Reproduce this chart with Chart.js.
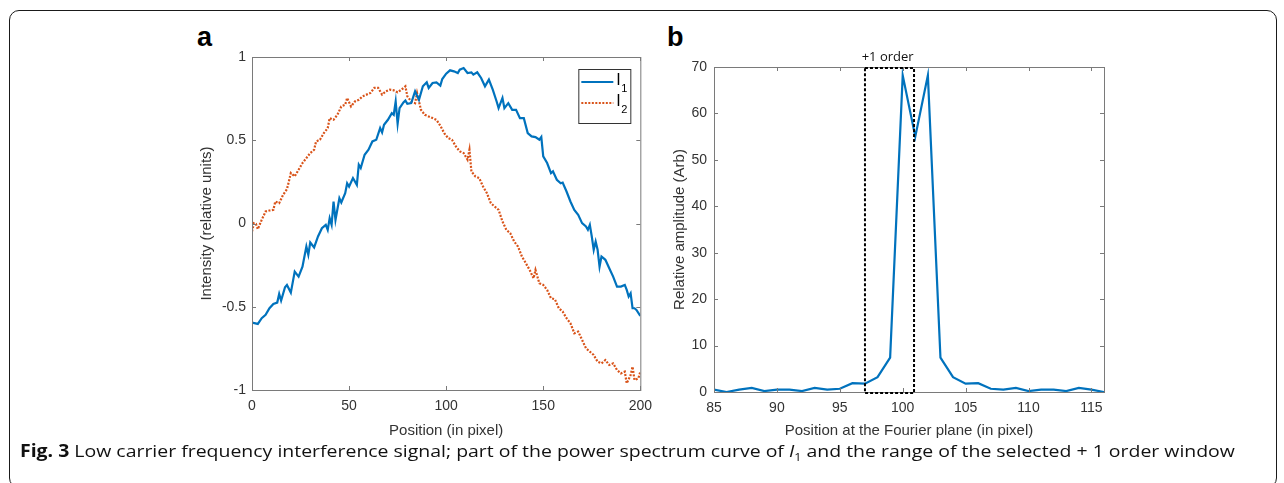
<!DOCTYPE html>
<html>
<head>
<meta charset="utf-8">
<script src="https://cdn.jsdelivr.net/npm/chart.js@4.4.1/dist/chart.umd.min.js"></script>
<style>
  body { margin: 0; background: #fff; width: 1284px; height: 483px; overflow: hidden; position: relative; font-family: "Liberation Sans", Arial, sans-serif; }
  .frame { position: absolute; left: 9px; top: 10px; width: 1268px; height: 478px; box-sizing: border-box; border: 1.5px solid #1a1a1a; border-radius: 10px; }
  .panel { position: absolute; }
  .tag { position: absolute; font-weight: bold; font-size: 27px; color: #000; }
  #caption { position: absolute; left: 20px; top: 439px; font-family: "Open Sans", sans-serif; font-size: 17px; color: #111; white-space: nowrap; transform-origin: left top; }
</style>
</head>
<body>
<div class="frame"></div>
<div class="tag" style="left:197px; top:22px;">a</div>
<div class="tag" style="left:667px; top:22px;">b</div>
<div class="panel" style="left:180px; top:20px; width:480px; height:425px;"><canvas id="chartA"></canvas></div>
<div class="panel" style="left:650px; top:20px; width:480px; height:425px;"><canvas id="chartB"></canvas></div>
<div id="caption"><b>Fig. 3</b> Low carrier frequency interference signal; part of the power spectrum curve of <i>I</i><sub style="font-size:11px">1</sub> and the range of the selected + 1 order window</div>

<script>
// panel a - interference signals
const i1Pos = [0,3,5,7,9,11,13,14,15,17,18,20,22,24,26,28,29,30,32,34,36,38,39,40,41,42,43,45,46,48,49,50,52,54,55,56,58,60,62,64,66,67,68,70,72,73,74,75,76,78,79,80,82,84,86,88,90,91,93,95,97,98,100,102,104,106,107,109,111,113,114,116,118,120,122,124,126,127,129,130,132,134,136,138,140,142,144,146,148,149,150,152,154,155,157,159,160,162,164,166,168,170,172,173,174,175,176,177,178,179,180,182,184,186,188,190,192,193,194,195,196,197,198,200];
const i1Val = [-0.595,-0.603,-0.569,-0.549,-0.509,-0.483,-0.475,-0.423,-0.463,-0.383,-0.369,-0.415,-0.289,-0.319,-0.259,-0.138,-0.188,-0.114,-0.144,-0.078,-0.028,-0.008,-0.038,0.032,-0.008,0.132,0.022,0.152,0.126,0.182,0.242,0.222,0.273,0.232,0.353,0.333,0.413,0.443,0.493,0.503,0.573,0.547,0.593,0.623,0.663,0.653,0.733,0.599,0.693,0.727,0.739,0.719,0.723,0.794,0.743,0.824,0.848,0.814,0.844,0.848,0.828,0.868,0.900,0.920,0.914,0.904,0.924,0.934,0.904,0.908,0.894,0.908,0.874,0.824,0.864,0.804,0.733,0.693,0.754,0.693,0.723,0.683,0.683,0.633,0.633,0.543,0.523,0.519,0.503,0.519,0.403,0.363,0.303,0.313,0.263,0.242,0.246,0.192,0.132,0.082,0.052,0.002,-0.018,-0.038,-0.008,-0.078,-0.158,-0.108,-0.158,-0.259,-0.198,-0.218,-0.269,-0.319,-0.379,-0.379,-0.369,-0.399,-0.439,-0.419,-0.509,-0.509,-0.519,-0.555];

const i2Pos = [0,1,2,3,5,7,9,11,12,14,16,18,19,20,22,24,26,28,30,32,33,35,37,39,40,42,44,46,48,49,51,53,55,57,59,61,63,65,67,69,71,73,75,77,79,80,82,84,85,87,89,91,93,95,97,99,101,103,105,107,109,111,112,113,115,117,119,121,123,125,127,129,131,133,135,137,139,141,143,145,146,148,150,152,154,156,158,160,162,164,166,168,170,172,174,176,178,180,182,184,186,188,190,192,193,195,196,197,199,200];
const i2Val = [-0.048,0.002,-0.002,-0.034,0.022,0.072,0.078,0.082,0.132,0.122,0.172,0.206,0.253,0.303,0.283,0.323,0.363,0.393,0.423,0.443,0.493,0.503,0.543,0.573,0.633,0.623,0.653,0.703,0.713,0.754,0.703,0.733,0.743,0.764,0.774,0.784,0.814,0.814,0.774,0.794,0.804,0.800,0.788,0.804,0.824,0.764,0.733,0.723,0.784,0.683,0.653,0.643,0.633,0.623,0.587,0.543,0.513,0.503,0.463,0.433,0.423,0.383,0.443,0.313,0.283,0.273,0.222,0.182,0.122,0.102,0.082,0.012,-0.038,-0.058,-0.108,-0.138,-0.198,-0.238,-0.279,-0.329,-0.279,-0.359,-0.369,-0.399,-0.449,-0.455,-0.509,-0.529,-0.569,-0.599,-0.659,-0.649,-0.699,-0.749,-0.770,-0.790,-0.830,-0.840,-0.820,-0.850,-0.840,-0.880,-0.900,-0.890,-0.960,-0.910,-0.860,-0.940,-0.930,-0.890];

const aXTicks = [0, 50, 100, 150, 200];
const aYTicks = [-1, -0.5, 0, 0.5, 1];

// panel b - power spectrum around the +1 order
const specPos = [85,86,87,88,89,90,91,92,93,94,95,96,97,98,99,100,101,102,103,104,105,106,107,108,109,110,111,112,113,114,115,116];
const specVal = [0.5,0,0.5,0.9,0.2,0.5,0.5,0.2,0.9,0.5,0.7,1.9,1.8,3.2,7.4,68.2,55,68.2,7.4,3.2,1.8,1.9,0.7,0.5,0.9,0.2,0.5,0.5,0.2,0.9,0.5,0];
const bXTicks = [85, 90, 95, 100, 105, 110, 115];
const bYTicks = [0, 10, 20, 30, 40, 50, 60, 70];
const orderWindow = [97, 100.9];
const orderLabel = '+1 order';

const BLUE = '#0072BD';
const ORANGE = '#D95319';
const AXIS = '#333333';

function pts(xs, ys) {
    return xs.map((x, i) => ({ x: x, y: ys[i] }));
}

// matlab-like box with inward ticks on all four sides
const boxPlugin = {
    id: 'box',
    afterDatasetsDraw(chart) {
        const { ctx, chartArea: a, scales } = chart;
        ctx.save();
        ctx.strokeStyle = '#7a7a7a';
        ctx.lineWidth = 1;
        ctx.strokeRect(a.left + 0.5, a.top + 0.5, a.right - a.left, a.bottom - a.top);
        ctx.beginPath();
        scales.x.ticks.forEach(t => {
            const px = Math.round(scales.x.getPixelForValue(t.value)) + 0.5;
            ctx.moveTo(px, a.bottom); ctx.lineTo(px, a.bottom - 4);
            ctx.moveTo(px, a.top); ctx.lineTo(px, a.top + 4);
        });
        scales.y.ticks.forEach(t => {
            const py = Math.round(scales.y.getPixelForValue(t.value)) + 0.5;
            ctx.moveTo(a.left, py); ctx.lineTo(a.left + 4, py);
            ctx.moveTo(a.right, py); ctx.lineTo(a.right - 4, py);
        });
        ctx.stroke();
        ctx.restore();
    }
};

// legend drawn inside the plot, top right
const legendPlugin = {
    id: 'boxLegend',
    afterDraw(chart) {
        if (!chart.options.plugins.boxLegend) return;
        const { ctx, chartArea: a } = chart;
        const w = 52, h = 54;
        const left = a.right - 10 - w, top = a.top + 12;
        ctx.save();
        ctx.fillStyle = '#fff';
        ctx.fillRect(left, top, w, h);
        ctx.strokeStyle = '#333';
        ctx.lineWidth = 1;
        ctx.strokeRect(left + 0.5, top + 0.5, w, h);
        chart.data.datasets.forEach((ds, i) => {
            const y = top + 13 + i * 21;
            ctx.beginPath();
            ctx.strokeStyle = ds.borderColor;
            ctx.lineWidth = ds.borderWidth;
            ctx.setLineDash(ds.borderDash || []);
            ctx.moveTo(left + 3, y);
            ctx.lineTo(left + 35, y);
            ctx.stroke();
            ctx.setLineDash([]);
            ctx.fillStyle = '#000';
            ctx.textBaseline = 'middle';
            ctx.font = '16px "Liberation Sans", Arial';
            ctx.fillText(ds.label.charAt(0), left + 38, y - 1);
            ctx.font = '11px "Liberation Sans", Arial';
            ctx.fillText(ds.label.slice(1), left + 43, y + 7);
        });
        ctx.restore();
    }
};

// dashed window that marks the selected +1 order
const windowPlugin = {
    id: 'orderWindow',
    afterDatasetsDraw(chart) {
        if (!chart.options.plugins.orderWindow) return;
        const { ctx, scales: { x, y } } = chart;
        const x0 = x.getPixelForValue(orderWindow[0]);
        const x1 = x.getPixelForValue(orderWindow[1]);
        const y0 = y.getPixelForValue(bYTicks[bYTicks.length - 1]);
        const y1 = y.getPixelForValue(0);
        ctx.save();
        ctx.strokeStyle = '#000';
        ctx.lineWidth = 2;
        ctx.setLineDash([3, 2]);
        ctx.strokeRect(x0, y0 + 1, x1 - x0, y1 - y0);
        ctx.setLineDash([]);
        ctx.fillStyle = '#111';
        ctx.font = '13px "Open Sans", sans-serif';
        ctx.textAlign = 'center';
        ctx.textBaseline = 'bottom';
        ctx.fillText(orderLabel, x.getPixelForValue(98.8), y0 - 3);
        ctx.restore();
    }
};

function axis(min, max, tickValues, title, opts) {
    return {
        type: 'linear',
        min: min,
        max: max,
        afterBuildTicks: s => { s.ticks = tickValues.map(v => ({ value: v })); },
        afterFit: s => { if (opts.width) s.width = opts.width; if (opts.height) s.height = opts.height; },
        grid: { display: false, drawTicks: false },
        border: { display: false },
        ticks: {
            color: AXIS,
            padding: opts.pad,
            callback: v => String(v),
            font: { family: '"Liberation Sans", Arial', size: 14 }
        },
        title: {
            display: true,
            text: title,
            color: AXIS,
            font: { family: '"Liberation Sans", Arial', size: 15 },
            padding: opts.titlePad
        }
    };
}

document.addEventListener('DOMContentLoaded', function() {
    Chart.defaults.animation = false;

    new Chart(document.getElementById('chartA'), {
        type: 'line',
        data: {
            datasets: [
                { label: 'I1', data: pts(i1Pos, i1Val), borderColor: BLUE, borderWidth: 2.2, pointRadius: 0, tension: 0 },
                { label: 'I2', data: pts(i2Pos, i2Val), borderColor: ORANGE, borderWidth: 2.2, borderDash: [2, 1.5], pointRadius: 0, tension: 0 }
            ]
        },
        options: {
            responsive: true,
            maintainAspectRatio: false,
            layout: { padding: { top: 37, right: 11, left: 0, bottom: 0 } },
            plugins: { legend: { display: false }, tooltip: { enabled: false }, boxLegend: true },
            scales: {
                x: axis(0, 200, aXTicks, 'Position (in pixel)', { height: 55, pad: 8, titlePad: { top: 0, bottom: 5 } }),
                y: axis(-1, 1, aYTicks, 'Intensity (relative units)', { width: 72, pad: 6, titlePad: { top: 18, bottom: 0 } })
            }
        },
        plugins: [boxPlugin, legendPlugin]
    });

    new Chart(document.getElementById('chartB'), {
        type: 'line',
        data: {
            datasets: [
                { label: 'I1 spectrum', data: pts(specPos, specVal), borderColor: BLUE, borderWidth: 2.2, pointRadius: 0, tension: 0 }
            ]
        },
        options: {
            responsive: true,
            maintainAspectRatio: false,
            layout: { padding: { top: 47, right: 26, left: 0, bottom: 0 } },
            plugins: { legend: { display: false }, tooltip: { enabled: false }, orderWindow: true },
            scales: {
                x: axis(85, 116, bXTicks, 'Position at the Fourier plane (in pixel)', { height: 53, pad: 8, titlePad: { top: 0, bottom: 5 } }),
                y: axis(0, 70, bYTicks, 'Relative amplitude (Arb)', { width: 64, pad: 7, titlePad: { top: 21, bottom: 0 } })
            }
        },
        plugins: [boxPlugin, windowPlugin]
    });

    // stretch the caption to the width it has in the figure
    const cap = document.getElementById('caption');
    cap.style.transform = 'scaleX(' + (1215 / cap.scrollWidth) + ')';
});
</script>
</body>
</html>
